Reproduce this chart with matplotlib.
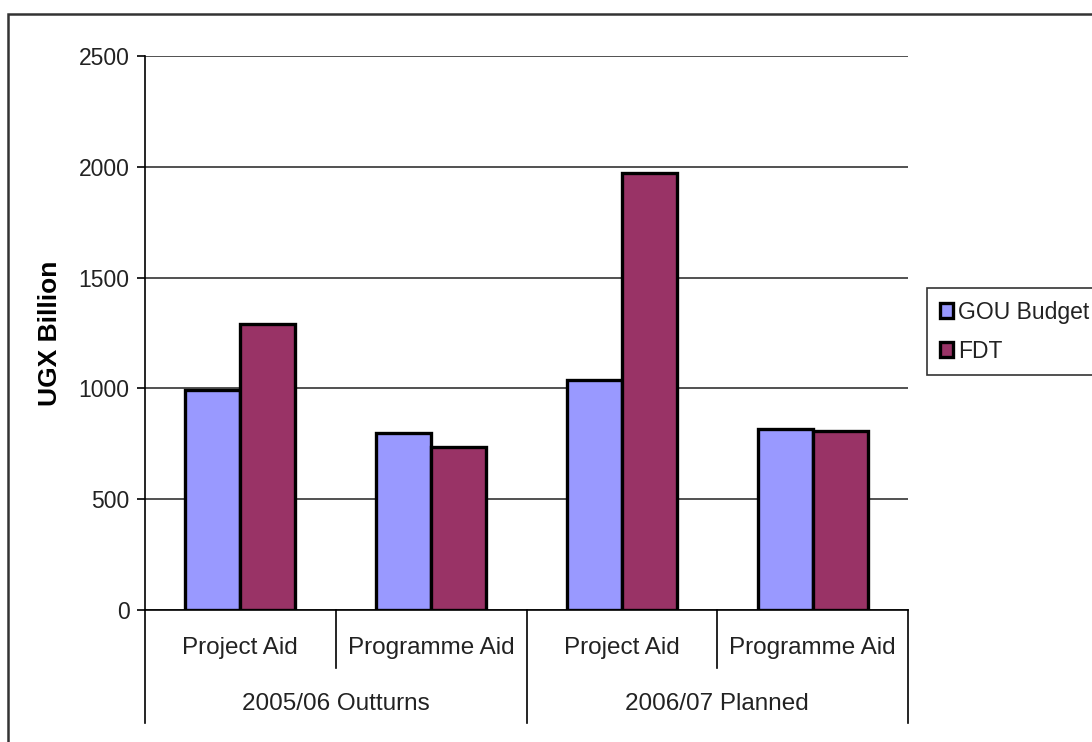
import matplotlib
matplotlib.use("Agg")
import matplotlib.pyplot as plt
import matplotlib.transforms as mtransforms
from matplotlib.patches import Patch, Rectangle
import numpy as np

plt.rcParams['font.family'] = ['Liberation Sans', 'DejaVu Sans']

# chart data
periods = ['2005/06 Outturns', '2006/07 Planned']
aid_types = ['Project Aid', 'Programme Aid']
series_names = ['GOU Budget', 'FDT']
gou_budget = [995, 800, 1040, 818]
fdt = [1290, 737, 1973, 809]
y_ticks = [0, 500, 1000, 1500, 2000, 2500]

BLUE = '#9999FF'
MAROON = '#993366'
W, H = 1092, 742

fig = plt.figure(figsize=(W / 100, H / 100), dpi=100)
ax = fig.add_axes([145 / W, (H - 610) / H, 763 / W, 554 / H])

n = len(periods) * len(aid_types)
x = np.arange(n)
bw = 0.288
ax.bar(x - bw / 2, gou_budget, bw, color=BLUE, edgecolor='black', linewidth=2.4, zorder=3)
ax.bar(x + bw / 2, fdt, bw, color=MAROON, edgecolor='black', linewidth=2.4, zorder=3)

ax.set_xlim(-0.5, n - 0.5)
ax.set_ylim(0, 2500)
ax.set_yticks(y_ticks)
ax.tick_params(axis='y', direction='out', length=6, width=1.2, labelsize=16.5, pad=5,
               colors='black', labelcolor='#222222')
ax.tick_params(axis='x', length=0, labelbottom=False)
ax.yaxis.grid(True, color='#333333', linewidth=1.2, zorder=0)
ax.set_axisbelow(True)
for s in ['top', 'right']:
    ax.spines[s].set_visible(False)
ax.spines['left'].set_linewidth(1.2)
ax.spines['bottom'].set_linewidth(1.2)
ax.set_ylabel('UGX Billion', fontsize=19, fontweight='bold', labelpad=12)

# two-level category axis below the plot
trans = mtransforms.blended_transform_factory(ax.transData, ax.transAxes)
for i in range(n + 1):
    xe = i - 0.5
    low = -0.204 if i % 2 == 0 else -0.1047
    ax.plot([xe, xe], [0, low], color='black', linewidth=1.2, transform=trans, clip_on=False)
labels = aid_types * len(periods)
for i in range(n):
    ax.text(x[i], -0.068, labels[i], transform=trans, ha='center', va='center',
            fontsize=17.5, color='#222222')
for j, p in enumerate(periods):
    ax.text(j * 2 + 0.5, -0.169, p, transform=trans, ha='center', va='center',
            fontsize=17.5, color='#222222')

# legend
handles = [Patch(facecolor=BLUE, edgecolor='black', linewidth=2.4),
           Patch(facecolor=MAROON, edgecolor='black', linewidth=2.4)]
leg = fig.legend(handles, series_names, loc='upper left',
                 bbox_to_anchor=(927 / W, (H - 288) / H), fontsize=16.5,
                 frameon=True, fancybox=False, handlelength=0.6, handleheight=0.6,
                 handletextpad=0.2, borderpad=0.55, labelspacing=0.7, borderaxespad=0)
leg.get_frame().set_edgecolor('black')
leg.get_frame().set_linewidth(1.2)
for t in leg.get_texts():
    t.set_color('#222222')

# outer chart border
fig.patches.append(Rectangle((8 / W, -0.05), 1.2, (H - 14) / H + 0.05, transform=fig.transFigure,
                             fill=False, edgecolor='#333333', linewidth=1.8))

fig.savefig('out.png', dpi=100)
